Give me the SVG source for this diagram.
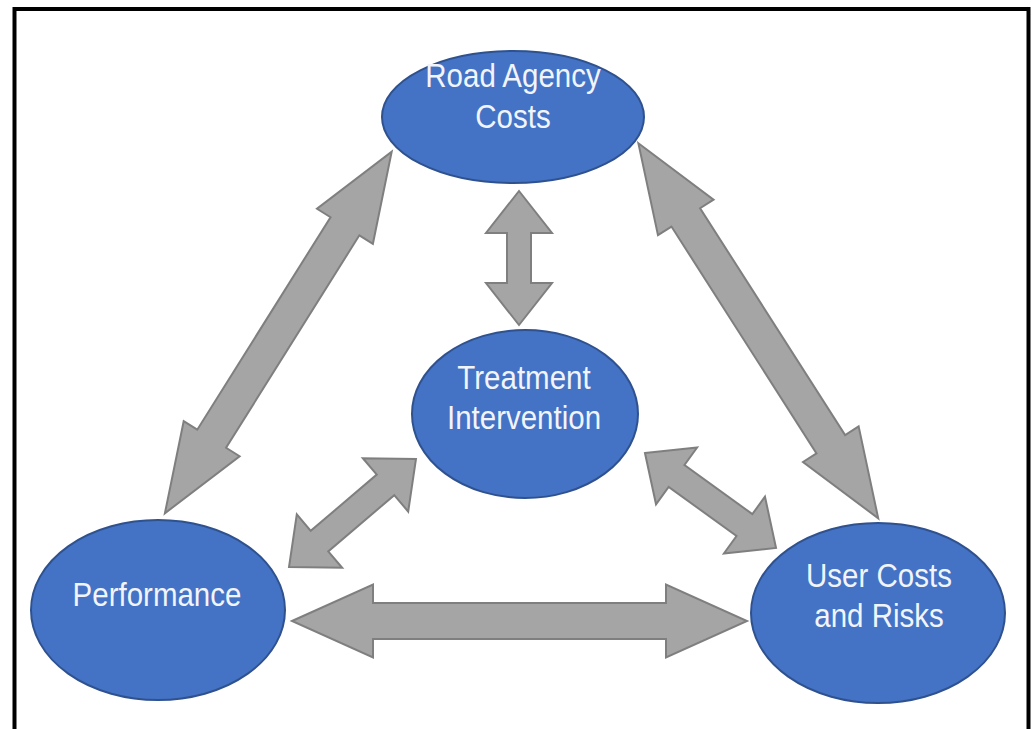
<svg xmlns="http://www.w3.org/2000/svg" width="1036" height="729" viewBox="0 0 1036 729">
<style>
.node{fill:#4472C4;stroke:#2F528F;stroke-width:2}
.lbl{font-family:"Liberation Sans",Arial,sans-serif;font-size:29.5px;fill:#F1F5FB;text-anchor:middle}
.arr{fill:#A5A5A5;stroke:#7F7F7F;stroke-width:2;stroke-linejoin:miter}
</style>
<rect x="0" y="0" width="1036" height="729" fill="#FFFFFF"/>
<rect x="14.5" y="9" width="1014" height="760" fill="none" stroke="#000000" stroke-width="4"/>
<g id="connectors">
<path class="arr" transform="translate(278.3,332.5) rotate(-57.9)" d="M-213.4,0 L-125.4,-33 L-125.4,-17 L125.4,-17 L125.4,-33 L213.4,0 L125.4,33 L125.4,17 L-125.4,17 L-125.4,33 Z"/>
<path class="arr" transform="translate(758.3,330.8) rotate(57.4)" d="M-222.6,0 L-134.6,-33 L-134.6,-17 L134.6,-17 L134.6,-33 L222.6,0 L134.6,33 L134.6,17 L-134.6,17 L-134.6,33 Z"/>
<path class="arr" d="M519,191 L486,233 L507,233 L507,283 L486,283 L519,325 L552,283 L531,283 L531,233 L552,233 Z"/>
<path class="arr" d="M292,621 L373,584.5 L373,603 L666,603 L666,584.5 L747,621 L666,657.5 L666,639 L373,639 L373,657.5 Z"/>
<path class="arr" transform="translate(352.5,513) rotate(-40.4)" d="M-83.35,0 L-43.35,-35 L-43.35,-13.5 L43.35,-13.5 L43.35,-35 L83.35,0 L43.35,35 L43.35,13.5 L-43.35,13.5 L-43.35,35 Z"/>
<path class="arr" transform="translate(710.5,500.5) rotate(35.9)" d="M-80.9,0 L-41.9,-35 L-41.9,-13.5 L41.9,-13.5 L41.9,-35 L80.9,0 L41.9,35 L41.9,13.5 L-41.9,13.5 L-41.9,35 Z"/>
</g>
<g id="road-agency-costs">
<ellipse class="node" cx="513" cy="117" rx="131" ry="66"/>
<text class="lbl" transform="translate(513,87) scale(1,1.1)">Road Agency</text>
<text class="lbl" transform="translate(513,128) scale(1,1.1)">Costs</text>
</g>
<g id="treatment-intervention">
<ellipse class="node" cx="525" cy="414" rx="113" ry="84"/>
<text class="lbl" transform="translate(524,389) scale(1,1.1)">Treatment</text>
<text class="lbl" transform="translate(524,429) scale(1,1.1)">Intervention</text>
</g>
<g id="performance">
<ellipse class="node" cx="158" cy="610" rx="127" ry="90"/>
<text class="lbl" transform="translate(157,606) scale(1,1.1)">Performance</text>
</g>
<g id="user-costs-and-risks">
<ellipse class="node" cx="878" cy="613" rx="127" ry="90"/>
<text class="lbl" transform="translate(879,587) scale(1,1.1)">User Costs</text>
<text class="lbl" transform="translate(879,627) scale(1,1.1)">and Risks</text>
</g>
</svg>
